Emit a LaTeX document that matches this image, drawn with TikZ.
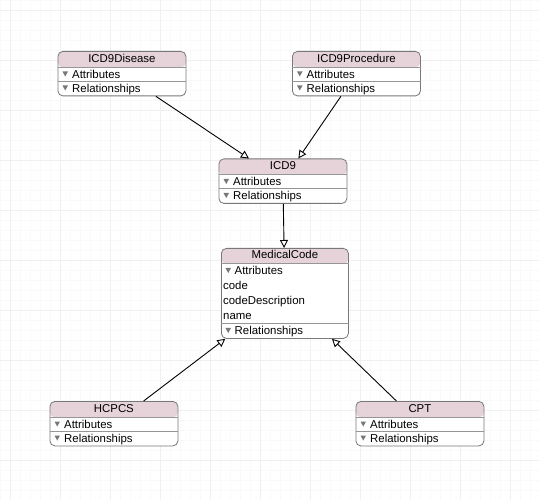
\documentclass[tikz,border=0pt]{standalone}
\usepackage{fontspec}
\setmainfont{Liberation Sans}
\usetikzlibrary{arrows.meta,calc}
\definecolor{titlefill}{RGB}{229,211,217}
\definecolor{boxborder}{RGB}{120,120,120}
\definecolor{sepline}{RGB}{150,150,150}
\definecolor{trigray}{RGB}{120,120,120}
\definecolor{gridminor}{RGB}{249,249,249}
\definecolor{gridmajor}{RGB}{240,240,240}
\tikzset{
  classbox/.style={draw=boxborder, fill=white, rounded corners=5pt, line width=0.8pt,
    minimum width=128pt, inner sep=0pt, anchor=north west,
    path picture={\fill[titlefill] (path picture bounding box.north west) rectangle ([yshift=-#1pt]path picture bounding box.north east);}},
  sepline/.style={draw=sepline, line width=0.7pt},
  titletext/.style={inner sep=0pt, text height=8pt, text depth=2.4pt, font=\fontsize{11.4}{13}\selectfont},
  rowtext/.style={anchor=west, inner sep=0pt, text height=8pt, text depth=2.4pt, font=\fontsize{11.4}{13}\selectfont},
  tri/.style={fill=trigray},
  gen/.style={draw=black, line width=0.9pt, -{Triangle[open, length=8pt, width=8pt, fill=white]}},
  gridminorline/.style={draw=gridminor, line width=0.6pt},
  gridmajorline/.style={draw=gridmajor, line width=0.6pt}
}
\newcommand\simplebox[4]{%
  \node[classbox=16, minimum height=44.5pt] (#1) at (#2,#3) {};
  \draw[sepline] ($(#1.north west)+(0,16)$) -- ($(#1.north east)+(0,16)$);
  \draw[sepline] ($(#1.north west)+(0,30)$) -- ($(#1.north east)+(0,30)$);
  \node[titletext] (#1-title) at ($(#1.north)+(0,8.5)$) {#4};
  \fill[tri] ($(#1.north west)+(5,20.5)$) -- ++(5.5,0) -- ++(-2.75,5) -- cycle;
  \node[rowtext] (#1-attr) at ($(#1.north west)+(14.5,24.5)$) {Attributes};
  \fill[tri] ($(#1.north west)+(5,34.5)$) -- ++(5.5,0) -- ++(-2.75,5) -- cycle;
  \node[rowtext] (#1-rel) at ($(#1.north west)+(14.5,38.5)$) {Relationships};
}
\begin{document}
\begin{tikzpicture}[x=1pt, y=-1pt]
\useasboundingbox (0,0) rectangle (539,500);
\fill[white] (0,0) rectangle (539,500);
\foreach \g in {0,10,...,530} \draw[gridminorline] (\g,0) -- (\g,500);
\foreach \g in {0,10,...,500} \draw[gridminorline] (0,\g) -- (539,\g);
\foreach \g in {10,60,...,510} \draw[gridmajorline] (\g,0) -- (\g,500);
\foreach \g in {10,60,...,490} \draw[gridmajorline] (0,\g) -- (539,\g);

\simplebox{icd9disease}{57.5}{51}{ICD9Disease}
\simplebox{icd9procedure}{292}{51}{ICD9Procedure}
\simplebox{icd9}{218.5}{158.5}{ICD9}
\simplebox{hcpcs}{49.5}{401}{HCPCS}
\simplebox{cpt}{355.5}{401}{CPT}

% MedicalCode
\node[classbox=15.5, minimum width=127pt, minimum height=90pt] (medicalcode) at (221,248) {};
\draw[sepline] ($(medicalcode.north west)+(0,15.5)$) -- ($(medicalcode.north east)+(0,15.5)$);
\draw[sepline] ($(medicalcode.north west)+(0,75.5)$) -- ($(medicalcode.north east)+(0,75.5)$);
\node[titletext] (medicalcode-title) at ($(medicalcode.north)+(0,8)$) {MedicalCode};
\fill[tri] ($(medicalcode.north west)+(4.5,20)$) -- ++(5.5,0) -- ++(-2.75,5) -- cycle;
\node[rowtext] (medicalcode-attr) at ($(medicalcode.north west)+(13.5,24)$) {Attributes};
\node[rowtext] (medicalcode-code) at ($(medicalcode.north west)+(2,39)$) {code};
\node[rowtext] (medicalcode-desc) at ($(medicalcode.north west)+(2,54)$) {codeDescription};
\node[rowtext] (medicalcode-name) at ($(medicalcode.north west)+(2,69)$) {name};
\fill[tri] ($(medicalcode.north west)+(4.5,80)$) -- ++(5.5,0) -- ++(-2.75,5) -- cycle;
\node[rowtext] (medicalcode-rel) at ($(medicalcode.north west)+(13.5,84)$) {Relationships};

% generalization connectors
\draw[gen] (icd9disease) -- (icd9);
\draw[gen] (icd9procedure) -- (icd9);
\draw[gen] (icd9) -- (medicalcode);
\draw[gen] (hcpcs) -- (medicalcode);
\draw[gen] (cpt) -- (medicalcode);
\end{tikzpicture}
\end{document}
